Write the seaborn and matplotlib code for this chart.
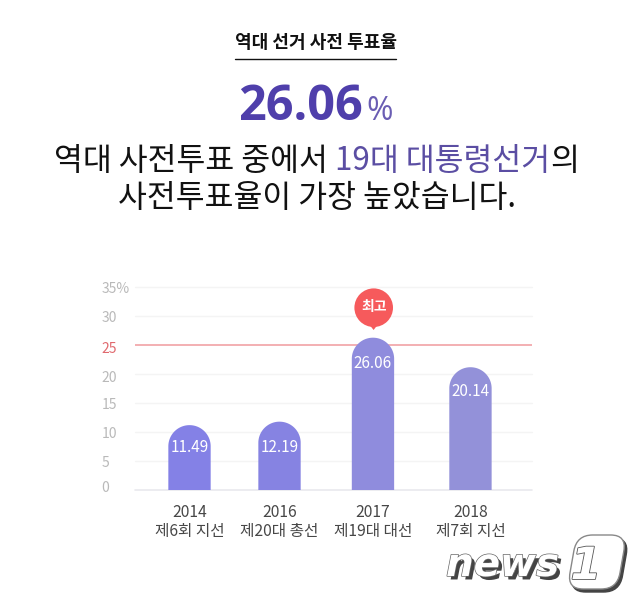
import matplotlib
matplotlib.use('Agg')
import numpy as np
import pandas as pd
import seaborn as sns
import matplotlib.pyplot as plt
import matplotlib.patheffects as pe
from matplotlib.patches import Circle, Polygon, FancyBboxPatch, PathPatch
from matplotlib.path import Path
from matplotlib.transforms import Affine2D, ScaledTranslation

years = ['2014', '2016', '2017', '2018']
elections = ['제6회 지선', '제20대 총선', '제19대 대선', '제7회 지선']
bar_heights = [11.2, 11.8, 26.3, 21.2]  # as drawn in the picture
bar_labels = ['11.49', '12.19', '26.06', '20.14']
label_levels = [7.4, 7.4, 21.8, 17.0]
bar_colors = ['#8481e6', '#8683e2', '#8f8cdd', '#9391d9']
y_ticks = [0, 5, 10, 15, 20, 25, 30, 35]
y_tick_labels = ['0', '5', '10', '15', '20', '25', '30', '35%']
red_level = 25

sns.set_theme(style='white')
plt.rcParams['font.family'] = ['Noto Sans CJK KR', 'DejaVu Sans']

W, H = 637, 602
fig = plt.figure(figsize=(W / 100, H / 100), dpi=100, facecolor='white')
ax = fig.add_axes([135 / W, 1 - 490 / H, 397 / W, (490 - 287.3) / H])

df = pd.DataFrame({'year': years, 'height': bar_heights})
sns.barplot(data=df, x='year', y='height', hue='year', palette=bar_colors,
            width=0.452, legend=False, ax=ax, saturation=1, zorder=3)

ax.set_xlim(-0.582, 3.657)
ax.set_ylim(0, 35)
ax.set_xlabel('')
ax.set_ylabel('')
sns.despine(ax=ax, left=True, bottom=True, top=True, right=True)

# grid
for v in y_ticks:
    if v == red_level:
        ax.axhline(v, color='#f2a9ac', lw=1.3, zorder=1)
    elif v == 0:
        ax.axhline(v, color='#e9e9ee', lw=1.2, zorder=1, clip_on=False)
    else:
        ax.axhline(v, color='#f4f4f4', lw=1, zorder=1, clip_on=False)

# bars are not evenly spaced in the original, and have domed tops
nudge = [0, -0.039, -0.041, 0]
px_x = 397 / (3.657 + 0.582)
px_y = (490 - 287.3) / 35
i = 0
for c in list(ax.containers):
    for p in c.patches:
        if p.get_height() != p.get_height():
            continue
        x0, w, h = p.get_x() + nudge[i], p.get_width(), p.get_height()
        ry = (w / 2) * px_x / px_y
        t = np.linspace(np.pi, 0, 60)
        top_x = x0 + w / 2 + w / 2 * np.cos(t)
        top_y = h - ry + ry * np.sin(t)
        verts = [(x0, 0)] + list(zip(top_x, top_y)) + [(x0 + w, 0), (x0, 0)]
        ax.add_patch(PathPatch(Path(verts), fc=p.get_facecolor(), lw=0, zorder=3))
        p.set_visible(False)
        ax.text(x0 + w / 2, label_levels[i], bar_labels[i], color='white', ha='center',
                va='center', fontsize=11, zorder=5)
        i += 1

ax.set_xticks(np.arange(4) + np.array(nudge))
ax.set_xticklabels([y + '\n' + e for y, e in zip(years, elections)],
                   fontsize=11.3, color='#474747', linespacing=1.19)
ax.tick_params(axis='x', length=0, pad=10)
ax.set_yticks(y_ticks)
ax.set_yticklabels(y_tick_labels, fontsize=10, ha='left', color='#b9b9b9')
ax.tick_params(axis='y', length=0, pad=24)
label_shift = [3, 0, 0, 0, -2, -2, 0, 0]  # labels sit a little off their gridlines
for lab, v, s in zip(ax.get_yticklabels(), y_ticks, label_shift):
    lab.set_transform(lab.get_transform() + ScaledTranslation(0, s / 100, fig.dpi_scale_trans))
    if v == red_level:
        lab.set_color('#e0696e')

# overlay in pixel coords for headline, badge and logo
ov = fig.add_axes([0, 0, 1, 1], zorder=10)
ov.set_xlim(0, W)
ov.set_ylim(H, 0)
ov.axis('off')
ov.patch.set_alpha(0)

ov.text(316, 42, '역대 선거 사전 투표율', ha='center', va='center', fontsize=13,
        fontweight='bold', color='#111111')
ov.plot([235, 396], [58.5, 58.5], color='#111111', lw=1)

r = fig.canvas.get_renderer()


def chain(x, y, parts, size, weight='normal'):
    for s, col in parts:
        t = ov.text(x, y, s, color=col, fontsize=size, fontweight=weight, ha='left',
                    va='baseline')
        x += t.get_window_extent(r).width


chain(54, 170, [('역대 사전투표 중에서 ', '#111111'), ('19대 대통령선거', '#5b4ea3'),
                ('의', '#111111')], 22.6)
chain(118, 207, [('사전투표율이 가장 높았습니다.', '#111111')], 22.6)

ov.text(238, 120, '26.06', color='#4f3fab', fontsize=35, fontweight='bold', ha='left',
        va='baseline', family=['Open Sans', 'DejaVu Sans'])
ov.text(366, 120, '%', color='#6a5db3', fontsize=23, ha='left', va='baseline',
        family=['Open Sans', 'DejaVu Sans'])

# 최고 badge
ov.add_patch(Polygon([[368, 323], [379, 323], [373.6, 330]], color='#f65a5c', lw=0))
ov.add_patch(Circle((373.7, 307.7), 19.3, color='#f65a5c', lw=0))
ov.text(373.7, 307.5, '최고', color='white', fontsize=10, fontweight='bold', ha='center',
        va='center')

# news1 logo
logo = ov.text(446, 576, 'news', color='white', fontsize=28, fontweight='bold',
               style='italic', family='DejaVu Sans', ha='left', va='baseline')
logo.set_path_effects([pe.SimplePatchShadow(offset=(2.5, -2.5), shadow_rgbFace='#444444', alpha=1),
                       pe.withStroke(linewidth=1, foreground='#666666')])

skew = Affine2D().skew_deg(-10, 0).translate(103, 0) + ov.transData
ov.add_patch(FancyBboxPatch((571, 538), 50, 54, boxstyle='round,pad=0,rounding_size=16',
                            fc='#444444', ec='#444444', lw=1, transform=skew))
ov.add_patch(FancyBboxPatch((568, 535), 50, 54, boxstyle='round,pad=0,rounding_size=16',
                            fc='white', ec='#888888', lw=1, transform=skew))
one = ov.text(586, 579, '1', color='white', fontsize=32, fontweight='bold', style='italic',
              family='DejaVu Sans', ha='center', va='baseline')
one.set_path_effects([pe.withStroke(linewidth=1.2, foreground='#555555')])

fig.savefig('out.png', dpi=100)
